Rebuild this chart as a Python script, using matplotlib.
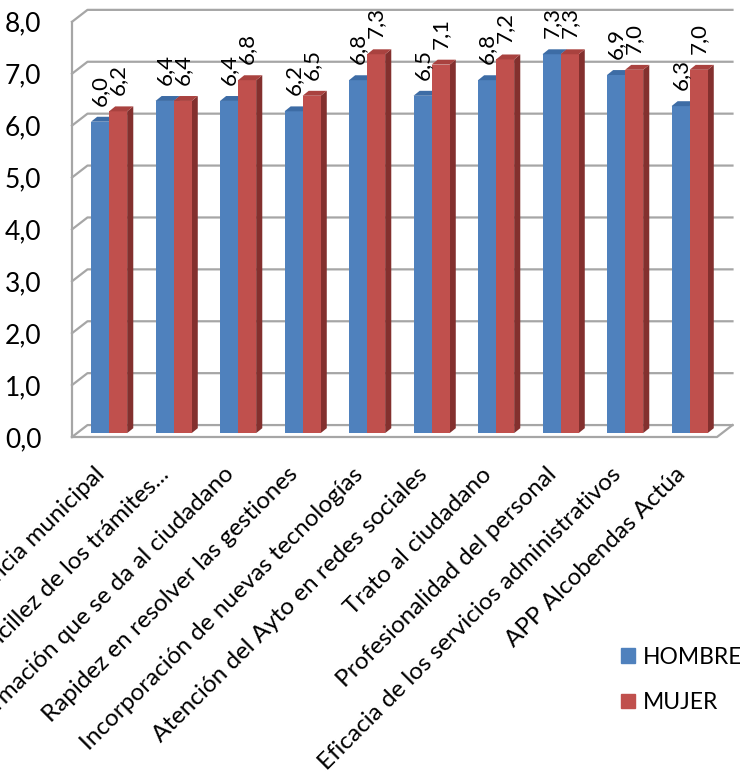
import matplotlib
matplotlib.use("Agg")
import matplotlib.pyplot as plt
from matplotlib.patches import Polygon, Patch

plt.rcParams['font.family'] = ['Lato', 'DejaVu Sans']

# Data
categories = ["Transparencia municipal", "Sencillez de los trámites...",
              "Información que se da al ciudadano", "Rapidez en resolver las gestiones",
              "Incorporación de nuevas tecnologías", "Atención del Ayto en redes sociales",
              "Trato al ciudadano", "Profesionalidad del personal",
              "Eficacia de los servicios administrativos", "APP Alcobendas Actúa"]
hombre = [6.0, 6.4, 6.4, 6.2, 6.8, 6.5, 6.8, 7.3, 6.9, 6.3]
mujer = [6.2, 6.4, 6.8, 6.5, 7.3, 7.1, 7.2, 7.3, 7.0, 7.0]
series_names = ["HOMBRE", "MUJER"]
yticks = [0, 1, 2, 3, 4, 5, 6, 7, 8]

# Colours
face_cols = ["#4F81BD", "#C0504D"]
top_cols = ["#3D6CA5", "#A9423F"]
side_cols = ["#35608F", "#83302E"]
grid_col = "#A6A6A6"

# 3D-ish geometry (data units)
DX, DY = 0.24, 0.23      # depth of the walls
bx, by = 0.075, 0.075    # bars sit a bit behind the front plane
W = 0.28                 # bar width
ddx, ddy = 0.095, 0.095  # bar depth
px_x, px_y = 64.5, 51.9  # pixels per data unit

fig = plt.figure(figsize=(7.40, 7.72), dpi=100)
fw, fh = 740, 772
ax_w = (10 + DX) * px_x
ax_h = (8 + DY) * px_y
ax = fig.add_axes([72 / fw, 1 - 437 / fh, ax_w / fw, ax_h / fh])
ax.set_xlim(0, 10 + DX)
ax.set_ylim(0, 8 + DY)
for s in ax.spines.values():
    s.set_visible(False)

# walls
for v in yticks:
    ax.plot([0, DX, 10 + DX], [v, v + DY, v + DY], color=grid_col, lw=1.6, clip_on=False, zorder=1)
ax.plot([0, 0], [0, 8], color=grid_col, lw=1.6, clip_on=False, zorder=1)
ax.plot([0, 10, 10 + DX], [0, 0, DY], color=grid_col, lw=1.6, clip_on=False, zorder=1)

# bars
for k, vals in enumerate([hombre, mujer]):
    xs = [i + 0.5 + bx - W / 2 + k * W for i in range(len(vals))]
    bars = ax.bar(xs, vals, width=W, bottom=by, color=face_cols[k], zorder=2 + k, linewidth=0)
    for b, v in zip(bars, vals):
        x0 = b.get_x()
        x1 = x0 + b.get_width()
        yt = by + b.get_height()
        ax.add_patch(Polygon([(x0, yt), (x1, yt), (x1 + ddx, yt + ddy), (x0 + ddx, yt + ddy)],
                             closed=True, color=top_cols[k], lw=0, zorder=2 + k))
        ax.add_patch(Polygon([(x1, by), (x1, yt), (x1 + ddx, yt + ddy), (x1 + ddx, by + ddy)],
                             closed=True, color=side_cols[k], lw=0, zorder=2 + k - 0.5))
        ax.annotate(f"{v:.1f}".replace(".", ","), xy=(x0 + W / 2, yt), xytext=(0, 16),
                    textcoords="offset pixels", rotation=90, ha="center", va="bottom",
                    fontsize=16, annotation_clip=False, zorder=5)

# y axis labels
ax.set_yticks(yticks)
ax.set_yticklabels([f"{v:.1f}".replace(".", ",") for v in yticks], fontsize=19)
ax.tick_params(axis="y", length=0, pad=22)
ax.set_xticks([])

# category labels
for i, lab in enumerate(categories):
    ax.annotate(lab, xy=(i + 0.5, 0), xytext=(-3, -34), textcoords="offset pixels",
                rotation=45, ha="right", va="center", rotation_mode="anchor",
                fontsize=17.5, annotation_clip=False)

# legend
handles = [Patch(color=c) for c in face_cols]
fig.legend(handles, series_names, loc="center left", bbox_to_anchor=(621 / fw, 1 - 680 / fh),
           frameon=False, fontsize=16.5, handlelength=0.62, handleheight=0.62,
           handletextpad=0.35, labelspacing=1.05, borderpad=0, borderaxespad=0)

fig.savefig("out.png", dpi=100)
